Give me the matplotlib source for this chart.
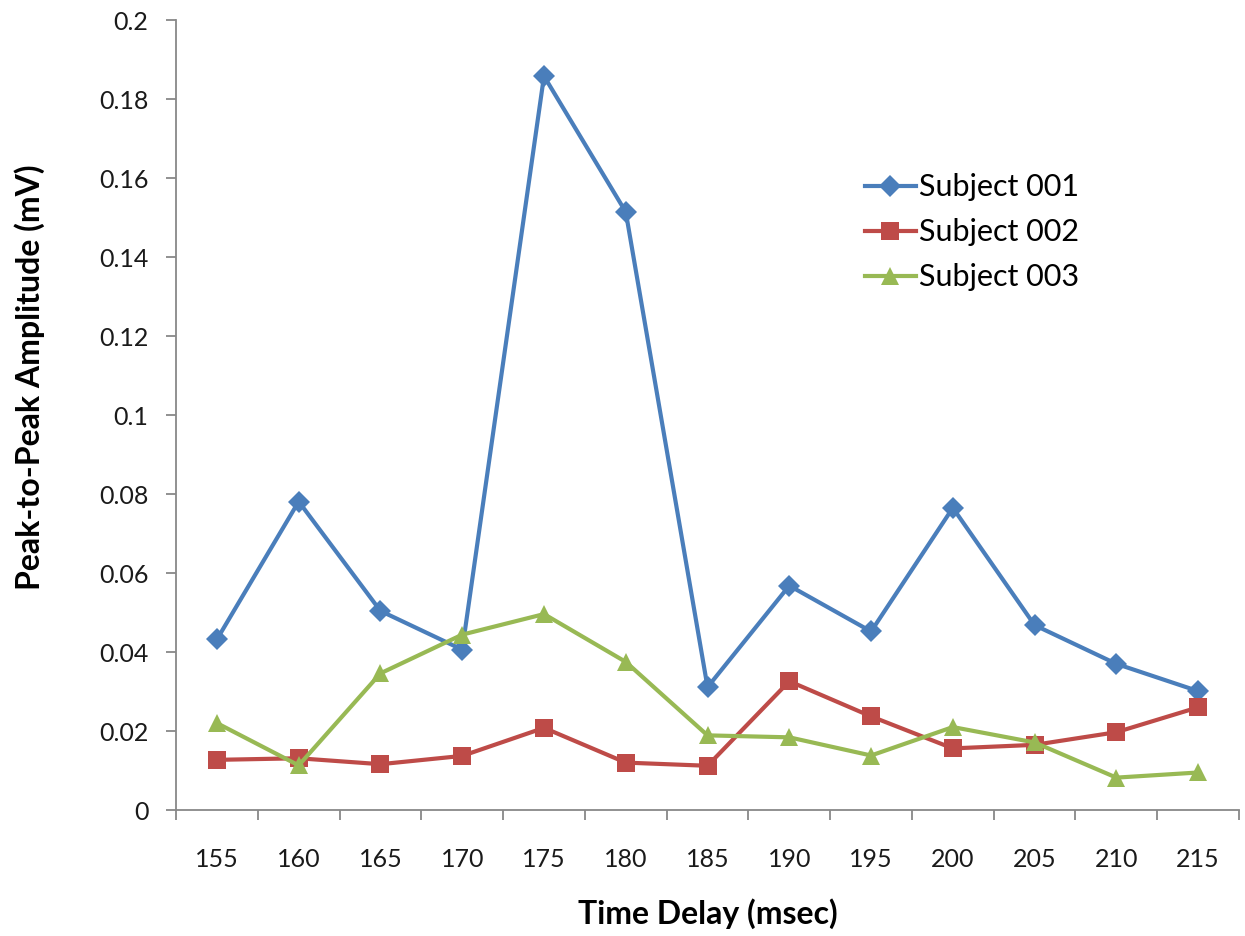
import matplotlib
matplotlib.use("Agg")
import matplotlib.pyplot as plt
from matplotlib.ticker import FixedLocator, FuncFormatter

delays = ["155", "160", "165", "170", "175", "180", "185", "190", "195", "200", "205", "210", "215"]
subject_001 = [0.0432, 0.0781, 0.0504, 0.0406, 0.1858, 0.1514, 0.0311, 0.0568, 0.0452, 0.0765, 0.0468, 0.0370, 0.0301]
subject_002 = [0.0127, 0.0131, 0.0116, 0.0137, 0.0208, 0.0120, 0.0112, 0.0326, 0.0237, 0.0156, 0.0165, 0.0197, 0.0260]
subject_003 = [0.0220, 0.0113, 0.0346, 0.0444, 0.0496, 0.0375, 0.0189, 0.0184, 0.0138, 0.0210, 0.0171, 0.0082, 0.0095]
series_names = ["Subject 001", "Subject 002", "Subject 003"]
y_ticks = [0, 0.02, 0.04, 0.06, 0.08, 0.1, 0.12, 0.14, 0.16, 0.18, 0.2]

plt.rcParams["font.family"] = ["Lato", "DejaVu Sans"]

fig = plt.figure(figsize=(12.45, 9.36), dpi=100)
ax = fig.add_axes([0.1414, 0.1346, 0.8538, 0.844])

x = list(range(len(delays)))
styles = [
    dict(color="#4A7EBB", marker="D", markersize=11),
    dict(color="#BE4B48", marker="s", markersize=12.5),
    dict(color="#98B954", marker="^", markersize=13.5),
]
for vals, name, st in zip([subject_001, subject_002, subject_003], series_names, styles):
    ax.plot(x, vals, color=st["color"], marker=st["marker"], markersize=st["markersize"],
            linewidth=3.0, markeredgewidth=0, label=name, solid_joinstyle="round")

ax.set_xlim(-0.5, len(delays) - 0.5)
ax.set_ylim(0, 0.2)

# category boundaries carry the tick marks, centres carry the labels
ax.xaxis.set_major_locator(FixedLocator([i - 0.5 for i in range(len(delays) + 1)]))
ax.xaxis.set_major_formatter(FuncFormatter(lambda v, p: ""))
ax.xaxis.set_minor_locator(FixedLocator(x))
ax.set_xticklabels(delays, minor=True)
ax.tick_params(axis="x", which="major", length=7, width=1.3, color="#888888", direction="out")
ax.tick_params(axis="x", which="minor", length=0, pad=27, labelsize=18, labelcolor="#1a1a1a")

ax.set_yticks(y_ticks)
ax.set_yticklabels(["0" if v == 0 else f"{v:g}" for v in y_ticks])
ax.tick_params(axis="y", length=7, width=1.3, color="#888888", direction="out", pad=13,
               labelsize=18, labelcolor="#1a1a1a")

for side in ["top", "right"]:
    ax.spines[side].set_visible(False)
for side in ["left", "bottom"]:
    ax.spines[side].set_color("#888888")
    ax.spines[side].set_linewidth(1.3)

ax.set_xlabel("Time Delay (msec)", fontsize=23, fontweight="bold")
ax.set_ylabel("Peak-to-Peak Amplitude (mV)", fontsize=23, fontweight="bold")
ax.xaxis.set_label_coords(0.5, -0.112)
ax.yaxis.set_label_coords(-0.123, 0.548)

leg = ax.legend(loc="upper left", bbox_to_anchor=(853 / 1245, 1 - 161 / 936),
                bbox_transform=fig.transFigure, frameon=False, fontsize=22,
                handlelength=1.65, handletextpad=0.12, labelspacing=0.56, borderaxespad=0)

fig.savefig("out.png", dpi=100, facecolor="white")
